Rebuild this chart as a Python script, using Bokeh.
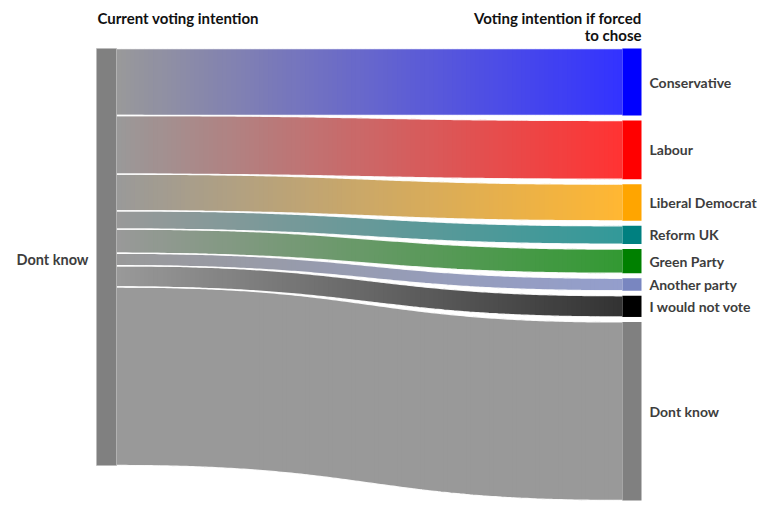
import numpy as np
from bokeh.plotting import figure
from bokeh.models import Range1d
from bokeh.embed import file_html
from bokeh.resources import INLINE
from bokeh.core.properties import value

# ---------------- data ----------------
source_label = "Dont know"
source_color = "#808080"
targets = ["Conservative", "Labour", "Liberal Democrat", "Reform UK",
           "Green Party", "Another party", "I would not vote", "Dont know"]
shares = [16.1, 14.1, 8.8, 4.4, 5.8, 3.0, 5.1, 42.9]
colors = ["#0000ff", "#ff0000", "#ffa500", "#008080",
          "#008000", "#7986c0", "#000000", "#808080"]
header_left = "Current voting intention"
header_right = ["Voting intention if forced", "to chose"]

# ---------------- layout (canvas-pixel data space) ----------------
W, H = 757, 502
TOP = 48
STACK = 417.0
GAP = 5.0
LX0, LX1 = 96, 116
RX0, RX1 = 622, 641
FLOW_ALPHA = 0.8
FONT = "Lato"

p = figure(width=W, height=H, x_range=Range1d(0, W), y_range=Range1d(H, 0),
           output_backend="svg", toolbar_location=None, x_axis_type=None, y_axis_type=None,
           min_border=0, outline_line_color=None)
p.grid.visible = False
p.background_fill_color = "white"
p.border_fill_color = "white"


def hex2rgb(h):
    h = h.lstrip("#")
    return np.array([int(h[i:i + 2], 16) for i in (0, 2, 4)], dtype=float)


def rgb2hex(c):
    c = np.clip(np.round(c), 0, 255).astype(int)
    return "#%02x%02x%02x" % tuple(c)


def over_white(c, a):
    return c * a + 255 * (1 - a)


total = float(sum(shares))
scale = STACK / total
heights = [s * scale for s in shares]

# left segments (contiguous)
l_top = []
y = TOP
for h in heights:
    l_top.append(y)
    y += h
left_bottom = y

# right nodes (with gaps)
r_top = []
y = TOP
for h in heights:
    r_top.append(y)
    y += h + GAP

# bezier fraction lookup
t = np.linspace(0, 1, 600)
fx = 1.5 * t * (1 - t) + t ** 3
gy = 3 * t ** 2 - 2 * t ** 3


def G(xq):
    return np.interp((xq - LX1) / (RX0 - LX1), fx, gy)


N = 110
edges = np.linspace(LX1, RX0, N + 1)
src_rgb = hex2rgb(source_color)
pxs, pys, pcs = [], [], []
edge_x, edge_y = [], []
xfine = np.linspace(LX1, RX0, 160)
for i, h in enumerate(heights):
    y0a, y0b = l_top[i], l_top[i] + h
    y1a, y1b = r_top[i], r_top[i] + h
    tgt = hex2rgb(colors[i])
    for k in range(N):
        xa = edges[k]
        xb = min(edges[k + 1] + 0.9, RX0)
        xq = np.linspace(xa, xb, 5)
        g = G(xq)
        top = y0a + (y1a - y0a) * g
        bot = y0b + (y1b - y0b) * g
        pxs.append(list(np.concatenate([xq, xq[::-1]])))
        pys.append(list(np.concatenate([top, bot[::-1]])))
        s = (k + 0.5) / N
        c = src_rgb * (1 - s) + tgt * s
        pcs.append(rgb2hex(over_white(c, FLOW_ALPHA)))
    g = G(xfine)
    edge_x += [list(xfine), list(xfine)]
    edge_y += [list(y0a + (y1a - y0a) * g), list(y0b + (y1b - y0b) * g)]

p.patches(xs=pxs, ys=pys, fill_color=pcs, line_color=None)
p.multi_line(xs=edge_x, ys=edge_y, line_color="white", line_width=1.3, line_alpha=0.9)

# nodes
p.quad(left=[LX0], right=[LX1], top=[TOP], bottom=[left_bottom],
       fill_color=source_color, line_color="#bbbbbb", line_width=0.6)
p.quad(left=[RX0] * len(targets), right=[RX1] * len(targets), top=r_top,
       bottom=[rt + h for rt, h in zip(r_top, heights)],
       fill_color=colors, line_color=None)

# labels
p.text(x=[RX1 + 8] * len(targets), y=[rt + h / 2 for rt, h in zip(r_top, heights)],
       text=targets, text_font=value(FONT), text_font_style="bold",
       text_font_size="14px", text_color="#3d3d3d",
       text_align="left", text_baseline="middle")
p.text(x=[LX0 - 8], y=[(TOP + left_bottom) / 2 + 2], text=[source_label],
       text_font=value(FONT), text_font_style="bold", text_font_size="14.5px",
       text_color="#3d3d3d", text_align="right", text_baseline="middle")

# headers
p.text(x=[LX0 + 1], y=[17], text=[header_left], text_font=value(FONT),
       text_font_style="bold", text_font_size="15px", text_color="#111111",
       text_align="left", text_baseline="middle")
p.text(x=[RX1] * len(header_right), y=[17, 34], text=header_right, text_font=value(FONT),
       text_font_style="bold", text_font_size="15px", text_color="#111111",
       text_align="right", text_baseline="middle")

open("out.html", "w").write(file_html(p, INLINE))
